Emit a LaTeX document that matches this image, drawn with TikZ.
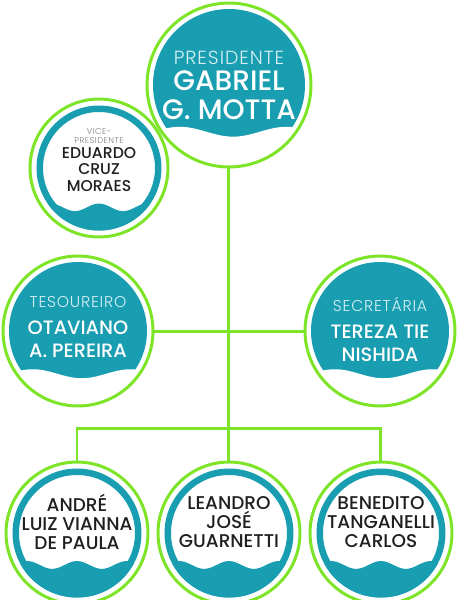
\documentclass[tikz,border=0pt]{standalone}
\usepackage{fontspec}
\setmainfont{Poppins}
\newfontfamily\namefont{Poppins}[UprightFont={* Medium}]
\newfontfamily\rolefont{Poppins}[UprightFont={* Light},LetterSpace=5]
\usetikzlibrary{positioning}
\definecolor{linegreen}{RGB}{126,228,40}
\definecolor{seateal}{RGB}{25,157,176}
\definecolor{rolegray}{RGB}{125,125,125}
\definecolor{rolelight}{RGB}{214,240,244}
\tikzset{
  disc/.style 2 args={circle,draw=linegreen,line width=.06cm,inner sep=0pt,
    minimum size=#1*.04cm,
    path picture={
      \begin{scope}[shift={(path picture bounding box.center)}]
        \fill[seateal] (0,0) circle[radius=#1-6];
        \fill[white] plot[domain=-#1:#1,samples=60,smooth]
          (\x,{#2*#1-.06*#1*cos(360/(1.3*#1)*(\x+.6*#1))})
          -- (#1,#1) -- (-#1,#1) -- cycle;
      \end{scope}}},
  ring/.style 2 args={circle,draw=linegreen,line width=.06cm,inner sep=0pt,
    minimum size=#1*.04cm,
    path picture={
      \begin{scope}[shift={(path picture bounding box.center)}]
        \draw[seateal,line width=.13cm] (0,0) circle[radius=#1-9.75];
        \clip (0,0) circle[radius=#1-6.5];
        \fill[seateal] plot[domain=-#1:#1,samples=60,smooth]
          (\x,{#2*#1-.055*#1*cos(360/(.7*#1)*\x)})
          -- (#1,#1) -- (-#1,#1) -- cycle;
      \end{scope}}},
  link/.style={draw=linegreen,line width=.06cm},
  discname/.style={align=center,text=white},
  ringname/.style={align=center,text=black!88},
}
\begin{document}
\begin{tikzpicture}[x=.02cm,y=-.02cm]
  \useasboundingbox (0,0) rectangle (457,600);
  % people
  \node[disc={82}{.57}] (pres) at (229,85) {};
  \node[ring={69}{.57}] (vice) at (99,168) {};
  \node[disc={75}{.57}] (tes) at (78,331) {};
  \node[disc={75}{.57}] (sec) at (380,331) {};
  \node[ring={71}{.45}] (andre) at (77,533) {};
  \node[ring={71}{.45}] (leandro) at (229,533) {};
  \node[ring={71}{.45}] (benedito) at (381,533) {};
  % connectors
  \coordinate (fork) at (229,428);
  \draw[link] (pres) -- (fork);
  \draw[link] (tes) -- (sec);
  \draw[link] (andre) |- (fork) -| (benedito);
  \draw[link] (fork) -- (leandro);
  % names
  \node[discname,font=\namefont\fontsize{16}{16.5}\selectfont] (presname) at (pres)
    {{\rolefont\color{rolelight}\fontsize{10.8}{11}\selectfont PRESIDENTE}\\[-1.7pt]
     GABRIEL\\G. MOTTA};
  \node[ringname,font=\namefont\fontsize{8.9}{9.2}\selectfont] (vicename) at ([yshift=.16cm]vice.center)
    {{\rolefont\color{rolegray}\fontsize{4.8}{5}\selectfont VICE-}\\[-4.1pt]
     {\rolefont\color{rolegray}\fontsize{4.8}{5}\selectfont PRESIDENTE}\\[-.7pt]
     EDUARDO\\CRUZ\\MORAES};
  \node[discname,font=\namefont\fontsize{11}{13.1}\selectfont] (tesname) at ([yshift=.08cm]tes.center)
    {{\rolefont\color{rolelight}\fontsize{8.9}{10}\selectfont TESOUREIRO}\\[2.3pt]
     OTAVIANO\\A. PEREIRA};
  \node[discname,font=\namefont\fontsize{11}{13.1}\selectfont] (secname) at ([yshift=.04cm]sec.center)
    {{\rolefont\color{rolelight}\fontsize{8.9}{10}\selectfont SECRETÁRIA}\\[2.3pt]
     TEREZA TIE\\NISHIDA};
  \node[ringname,font=\namefont\fontsize{10.5}{10.8}\selectfont] (andrename) at ([yshift=.22cm]andre.center)
    {ANDRÉ\\LUIZ VIANNA\\DE PAULA};
  \node[ringname,font=\namefont\fontsize{10.5}{10.8}\selectfont] (leandroname) at ([yshift=.22cm]leandro.center)
    {LEANDRO\\JOSÉ\\GUARNETTI};
  \node[ringname,font=\namefont\fontsize{10.5}{10.8}\selectfont] (beneditoname) at ([yshift=.22cm]benedito.center)
    {BENEDITO\\TANGANELLI\\CARLOS};
\end{tikzpicture}
\end{document}
